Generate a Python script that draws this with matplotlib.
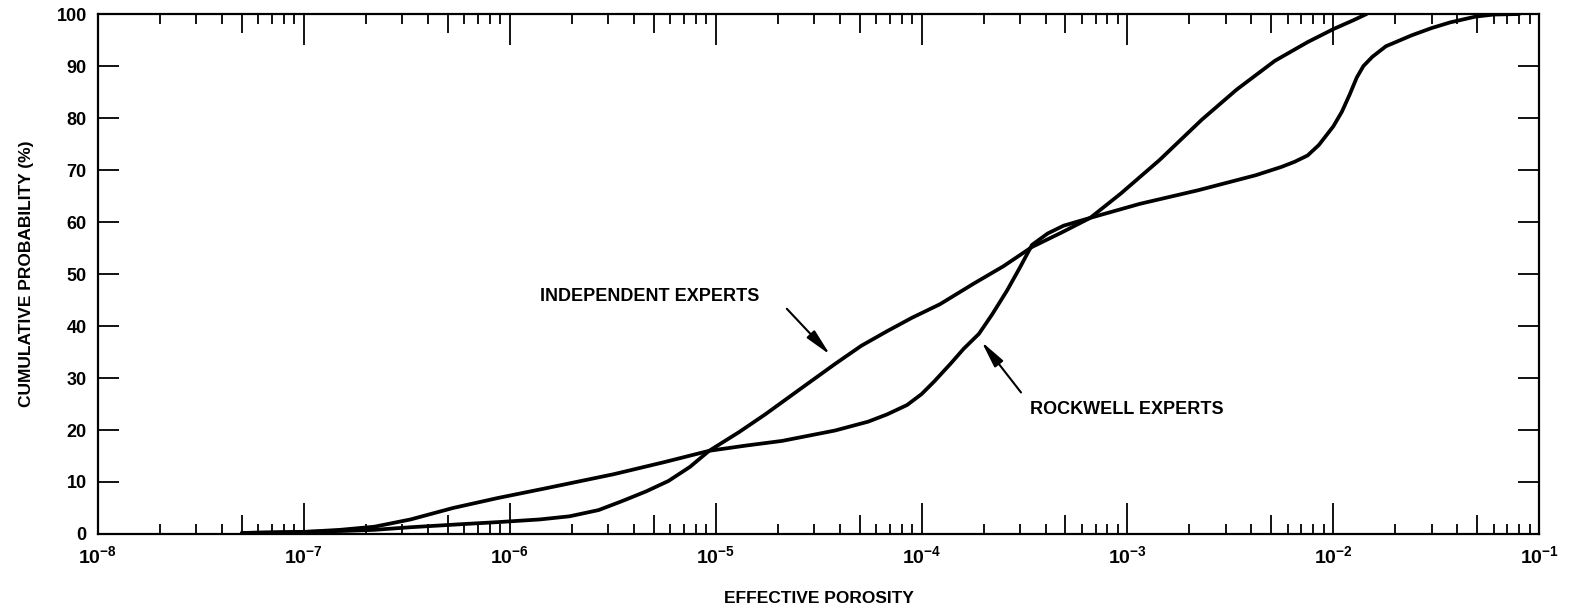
import numpy as np
import matplotlib
matplotlib.use("Agg")
import matplotlib.pyplot as plt
from matplotlib.ticker import LogLocator, NullFormatter, NullLocator, FixedLocator

plt.rcParams['font.family'] = ['Liberation Sans', 'DejaVu Sans']
plt.rcParams['mathtext.fontset'] = 'custom'
plt.rcParams['mathtext.rm'] = 'Liberation Sans:bold'
plt.rcParams['mathtext.bf'] = 'Liberation Sans:bold'

# curves (porosity, cumulative %)
indep_x = [5e-8, 1e-7, 1.6e-7, 2.2e-7, 3.3e-7, 5.9e-7, 8.9e-7, 1.4e-6, 1.95e-6,
           2.7e-6, 3.5e-6, 4.6e-6, 5.9e-6, 7.5e-6, 9.3e-6, 1.3e-5, 1.74e-5,
           2.6e-5, 3.8e-5, 5.1e-5, 6.8e-5, 9.0e-5, 1.23e-4, 1.8e-4, 2.5e-4,
           3.44e-4, 4.8e-4, 6.6e-4, 9.3e-4, 1.43e-3, 2.3e-3, 3.4e-3, 5.2e-3,
           7.5e-3, 1.0e-2, 1.25e-2, 1.45e-2]
indep_y = [0.2, 0.4, 0.6, 0.8, 1.3, 1.9, 2.3, 2.8, 3.4,
           4.6, 6.3, 8.2, 10.2, 12.9, 16.0, 19.6, 23.0,
           28.0, 32.7, 36.2, 39.0, 41.6, 44.2, 48.2, 51.5,
           55.2, 58.0, 60.8, 65.5, 71.9, 79.7, 85.5, 91.0,
           94.6, 97.1, 98.8, 100.0]

rock_x = [5e-8, 1e-7, 1.5e-7, 2.2e-7, 3.3e-7, 5.3e-7, 8.7e-7, 1.5e-6, 3.2e-6,
          5.6e-6, 9.3e-6, 1.4e-5, 2.1e-5, 3.8e-5, 5.5e-5, 6.8e-5, 8.5e-5,
          1.0e-4, 1.15e-4, 1.38e-4, 1.6e-4, 1.9e-4, 2.2e-4, 2.6e-4, 3.0e-4,
          3.44e-4, 4.1e-4, 4.9e-4, 6.6e-4, 1.15e-3, 2.2e-3, 4.2e-3, 5.6e-3,
          6.5e-3, 7.5e-3, 8.5e-3, 1.0e-2, 1.1e-2, 1.2e-2, 1.3e-2, 1.4e-2,
          1.55e-2, 1.8e-2, 2.4e-2, 3.0e-2, 3.7e-2, 4.9e-2, 6.0e-2, 8.0e-2]
rock_y = [0.2, 0.4, 0.8, 1.4, 2.8, 5.0, 6.9, 8.8, 11.5,
          13.8, 16.0, 17.0, 17.9, 19.9, 21.6, 23.0, 24.8,
          26.9, 29.3, 32.7, 35.6, 38.5, 42.2, 46.8, 51.2,
          55.6, 57.8, 59.3, 60.8, 63.5, 66.1, 69.0, 70.6,
          71.6, 72.8, 74.8, 78.4, 81.2, 84.5, 87.8, 90.0,
          91.8, 93.8, 95.9, 97.3, 98.4, 99.5, 99.9, 100.0]

x_decades = [1e-8, 1e-7, 1e-6, 1e-5, 1e-4, 1e-3, 1e-2, 1e-1]
x_labels = [r'$10^{-8}$', r'$10^{-7}$', r'$10^{-6}$', r'$10^{-5}$',
            r'$10^{-4}$', r'$10^{-3}$', r'$10^{-2}$', r'$10^{-1}$']
y_ticks = list(range(0, 101, 10))

fig = plt.figure(figsize=(15.7, 6.1), dpi=100)
ax = fig.add_axes([0.0624, 0.1246, 0.918, 0.8524])

ax.plot(indep_x, indep_y, color='black', lw=2.7, solid_joinstyle='round', solid_capstyle='round')
ax.plot(rock_x, rock_y, color='black', lw=2.7, solid_joinstyle='round', solid_capstyle='round')

ax.set_xscale('log')
ax.set_xlim(1e-8, 1e-1)
ax.set_ylim(0, 100)

# medium ticks at 5 x 10^n
ax5 = ax.twiny()
ax5.set_xscale('log')
ax5.set_xlim(ax.get_xlim())
ax5.xaxis.set_major_locator(LogLocator(base=10, subs=[5], numticks=20))
ax5.xaxis.set_minor_locator(NullLocator())
ax5.tick_params(axis='x', which='major', direction='in', length=14, width=1.3,
                top=True, bottom=True, labeltop=False, labelbottom=False)
for sp in ax5.spines.values():
    sp.set_visible(False)

ax.xaxis.set_major_locator(FixedLocator(x_decades))
ax.set_xticklabels(x_labels)
ax.xaxis.set_minor_locator(LogLocator(base=10, subs=[2, 3, 4, 6, 7, 8, 9], numticks=20))
ax.xaxis.set_minor_formatter(NullFormatter())
ax.set_yticks(y_ticks)

ax.tick_params(axis='x', which='major', direction='in', length=22, width=1.3,
               top=True, bottom=True, labeltop=False, labelbottom=True,
               labelsize=14, pad=8)
ax.tick_params(axis='x', which='minor', direction='in', length=7, width=1.3,
               top=True, bottom=True)
ax.tick_params(axis='y', which='major', direction='in', length=15, width=1.3,
               left=True, right=True, labelsize=13, pad=8)
for lab in ax.get_yticklabels():
    lab.set_fontweight('bold')

for sp in ax.spines.values():
    sp.set_linewidth(1.6)

ax.set_xlabel('EFFECTIVE POROSITY', fontsize=12.5, fontweight='bold', labelpad=17)
ax.set_ylabel('CUMULATIVE PROBABILITY (%)', fontsize=12.5, fontweight='bold', labelpad=16)

arrow_style = dict(arrowstyle='-|>,head_length=0.9,head_width=0.18',
                   lw=1.5, color='black', mutation_scale=18)

ax.text(1.4e-6, 45.7, 'INDEPENDENT EXPERTS', fontsize=13, fontweight='bold',
        ha='left', va='center')
ax.annotate('', xy=(3.67e-5, 34.1), xytext=(2.17e-5, 43.7), arrowprops=arrow_style)

ax.text(3.36e-4, 23.9, 'ROCKWELL EXPERTS', fontsize=13, fontweight='bold',
        ha='left', va='center')
ax.annotate('', xy=(1.92e-4, 37.4), xytext=(3.1e-4, 26.8), arrowprops=arrow_style)

fig.savefig('out.png', dpi=100)
